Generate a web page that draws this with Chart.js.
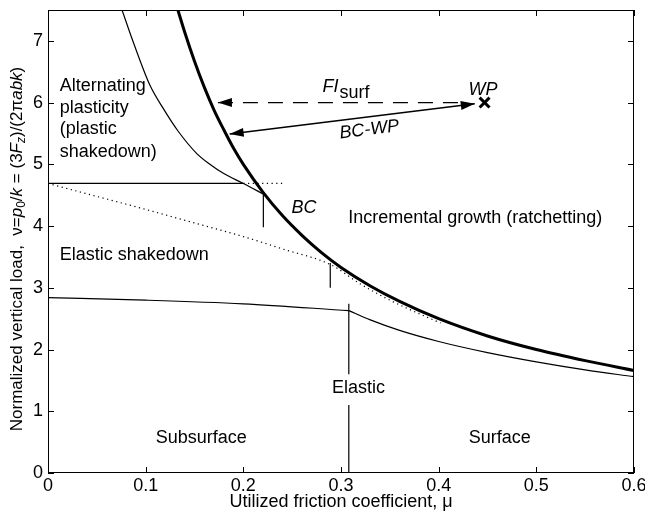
<!DOCTYPE html>
<html>
<head>
<meta charset="utf-8">
<script src="https://cdn.jsdelivr.net/npm/chart.js@4.4.0/dist/chart.umd.min.js"></script>
<style>
  html, body { margin: 0; padding: 0; background: #fff; }
  #wrap { width: 645px; height: 517px; }
</style>
</head>
<body>
<div id="wrap"><canvas id="shakedownChart"></canvas></div>
<script>
// axis ticks
const xTicks = [0, 0.1, 0.2, 0.3, 0.4, 0.5, 0.6];
const yTicks = [0, 1, 2, 3, 4, 5, 6, 7];

// ratchetting limit (BC), thick line
const bcMu = [0.133, 0.14, 0.15, 0.16, 0.17, 0.18, 0.19, 0.2, 0.22, 0.24, 0.26, 0.28, 0.3, 0.33, 0.36, 0.4, 0.45, 0.5, 0.55, 0.6];
const bcNu = [7.5, 7.14, 6.67, 6.25, 5.88, 5.56, 5.26, 5.0, 4.55, 4.17, 3.85, 3.57, 3.33, 3.03, 2.78, 2.5, 2.22, 2.0, 1.82, 1.66];

// alternating plasticity limit
const apMu = [0.0758, 0.088, 0.1044, 0.1178, 0.1331, 0.1526, 0.165, 0.18, 0.2, 0.2215];
const apNu = [7.5, 6.95, 6.28, 5.91, 5.54, 5.17, 5.01, 4.85, 4.69, 4.51];

// elastic limit: subsurface part, then surface part
const elSubMu = [0, 0.1, 0.2, 0.308];
const elSubNu = [2.84, 2.8, 2.74, 2.63];
const elSurfMu = [0.308, 0.33, 0.36, 0.4, 0.45, 0.5, 0.55, 0.6];
const elSurfNu = [2.63, 2.48, 2.31, 2.13, 1.95, 1.8, 1.67, 1.56];

// elastic shakedown limit (dotted)
const esMu = [0, 0.05, 0.1, 0.15, 0.2, 0.24, 0.29, 0.32, 0.35, 0.38, 0.402];
const esNu = [4.69, 4.48, 4.27, 4.05, 3.83, 3.63, 3.37, 3.06, 2.8, 2.58, 2.43];

// horizontal plastic shakedown level, solid then dotted
const psMu = [0, 0.2];
const psNu = [4.69, 4.69];
const psDotMu = [0.2, 0.24];
const psDotNu = [4.69, 4.69];

// short vertical dividers
const div1Mu = [0.2205, 0.2205];
const div1Nu = [4.52, 3.98];
const div2Mu = [0.289, 0.289];
const div2Nu = [3.4, 3.0];
const div3aMu = [0.308, 0.308];
const div3aNu = [2.74, 1.6];
const div3bMu = [0.308, 0.308];
const div3bNu = [1.1, 0];

// working point and arrows
const wpMu = [0.447];
const wpNu = [6.0];
const fiMu = [0.174, 0.43];
const fiNu = [6.0, 6.0];
const bcwpMu = [0.186, 0.437];
const bcwpNu = [5.49, 5.98];

const FONT = '"Liberation Sans", Arial, Helvetica, sans-serif';
const FS = 18;

function toPoints(xs, ys) {
    return xs.map((x, i) => ({ x: x, y: ys[i] }));
}

function lineSet(xs, ys, width, dash, smooth) {
    return {
        data: toPoints(xs, ys),
        showLine: true,
        borderColor: '#000',
        borderWidth: width,
        borderDash: dash || [],
        pointRadius: 0,
        cubicInterpolationMode: smooth ? 'monotone' : 'default',
        tension: 0,
        fill: false
    };
}

const regionLabels = [
    { text: 'Alternating', x: 0.012, y: 6.27, align: 'left' },
    { text: 'plasticity', x: 0.012, y: 5.92, align: 'left' },
    { text: '(plastic', x: 0.012, y: 5.57, align: 'left' },
    { text: 'shakedown)', x: 0.012, y: 5.2, align: 'left' },
    { text: 'BC', x: 0.262, y: 4.3, align: 'center', italic: true },
    { text: 'Incremental growth (ratchetting)', x: 0.4375, y: 4.13, align: 'center' },
    { text: 'Elastic shakedown', x: 0.012, y: 3.53, align: 'left' },
    { text: 'Elastic', x: 0.318, y: 1.37, align: 'center' },
    { text: 'Subsurface', x: 0.157, y: 0.56, align: 'center' },
    { text: 'Surface', x: 0.4625, y: 0.56, align: 'center' },
    { text: 'WP', x: 0.4455, y: 6.2, align: 'center', italic: true }
];

function arrowHead(ctx, x1, y1, x2, y2) {
    const ang = Math.atan2(y2 - y1, x2 - x1);
    const len = 14, half = 4.5;
    ctx.beginPath();
    ctx.moveTo(x2, y2);
    ctx.lineTo(x2 - len * Math.cos(ang) + half * Math.sin(ang), y2 - len * Math.sin(ang) - half * Math.cos(ang));
    ctx.lineTo(x2 - len * Math.cos(ang) - half * Math.sin(ang), y2 - len * Math.sin(ang) + half * Math.cos(ang));
    ctx.closePath();
    ctx.fill();
}

const decorations = {
    id: 'decorations',
    afterDraw(chart) {
        const { ctx, chartArea: a, scales: { x, y } } = chart;
        ctx.save();
        ctx.strokeStyle = '#000';
        ctx.fillStyle = '#000';
        ctx.lineWidth = 1;

        // frame with inward ticks on all four sides
        ctx.strokeRect(a.left + 0.5, a.top + 0.5, a.width - 1, a.height - 1);
        ctx.beginPath();
        xTicks.forEach(v => {
            const px = Math.round(x.getPixelForValue(v)) + 0.5;
            ctx.moveTo(px, a.bottom); ctx.lineTo(px, a.bottom - 6);
            ctx.moveTo(px, a.top); ctx.lineTo(px, a.top + 6);
        });
        yTicks.forEach(v => {
            const py = Math.round(y.getPixelForValue(v)) + 0.5;
            ctx.moveTo(a.left, py); ctx.lineTo(a.left + 6, py);
            ctx.moveTo(a.right, py); ctx.lineTo(a.right - 6, py);
        });
        ctx.stroke();

        // arrow heads
        const px = (m) => x.getPixelForValue(m);
        const py = (n) => y.getPixelForValue(n);
        arrowHead(ctx, px(fiMu[1]), py(fiNu[1]), px(fiMu[0]), py(fiNu[0]));
        arrowHead(ctx, px(bcwpMu[1]), py(bcwpNu[1]), px(bcwpMu[0]), py(bcwpNu[0]));
        arrowHead(ctx, px(bcwpMu[0]), py(bcwpNu[0]), px(bcwpMu[1]), py(bcwpNu[1]));

        // region labels
        ctx.textBaseline = 'middle';
        regionLabels.forEach(l => {
            ctx.font = (l.italic ? 'italic ' : '') + FS + 'px ' + FONT;
            ctx.textAlign = l.align;
            ctx.fillText(l.text, px(l.x), py(l.y));
        });

        // FI_surf
        ctx.textAlign = 'left';
        ctx.font = 'italic ' + FS + 'px ' + FONT;
        const fiX = px(0.281), fiY = py(6.26);
        ctx.fillText('FI', fiX, fiY);
        const fiW = ctx.measureText('FI').width;
        ctx.font = FS + 'px ' + FONT;
        ctx.fillText('surf', fiX + fiW + 1, fiY + 6);

        // BC-WP, tilted along the arrow
        const ang = Math.atan2(py(bcwpNu[1]) - py(bcwpNu[0]), px(bcwpMu[1]) - px(bcwpMu[0]));
        ctx.save();
        ctx.translate(px(0.329), py(5.56));
        ctx.rotate(ang);
        ctx.textAlign = 'center';
        ctx.font = 'italic ' + FS + 'px ' + FONT;
        ctx.fillText('BC-WP', 0, 0);
        ctx.restore();

        // y axis title with italics and subscripts
        const TS = 17;
        const parts = [
            ['Normalized vertical load,  \u03bd=', ''], ['p', 'i'], ['0', 's'], ['/', ''], ['k', 'i'],
            [' = (3', ''], ['F', 'i'], ['z', 'is'], [')/(2\u03c0', ''], ['abk', 'i'], [')', '']
        ];
        const fontFor = (st) => (st.includes('i') ? 'italic ' : '') + (st.includes('s') ? 12 : TS) + 'px ' + FONT;
        let total = 0;
        parts.forEach(p => { ctx.font = fontFor(p[1]); total += ctx.measureText(p[0]).width; });
        ctx.save();
        ctx.translate(17, 249);
        ctx.rotate(-Math.PI / 2);
        ctx.textAlign = 'left';
        let cx = -total / 2;
        parts.forEach(p => {
            ctx.font = fontFor(p[1]);
            ctx.fillText(p[0], cx, p[1].includes('s') ? 5 : 0);
            cx += ctx.measureText(p[0]).width;
        });
        ctx.restore();

        ctx.restore();
    }
};

const ctx = document.getElementById('shakedownChart').getContext('2d');
new Chart(ctx, {
    type: 'scatter',
    data: {
        datasets: [
            lineSet(bcMu, bcNu, 3, null, true),
            lineSet(apMu, apNu, 1.2, null, true),
            lineSet(elSubMu, elSubNu, 1.2, null, true),
            lineSet(elSurfMu, elSurfNu, 1.2, null, true),
            lineSet(esMu, esNu, 1.2, [1.2, 3.5], true),
            lineSet(psMu, psNu, 1.2),
            lineSet(psDotMu, psDotNu, 1.2, [1.2, 3.5]),
            lineSet(div1Mu, div1Nu, 1.2),
            lineSet(div2Mu, div2Nu, 1.2),
            lineSet(div3aMu, div3aNu, 1.2),
            lineSet(div3bMu, div3bNu, 1.2),
            lineSet(fiMu, fiNu, 1.2, [15, 10]),
            lineSet(bcwpMu, bcwpNu, 1.5),
            {
                data: toPoints(wpMu, wpNu),
                pointStyle: 'crossRot',
                pointRadius: 7,
                borderWidth: 3,
                borderColor: '#000',
                backgroundColor: '#000'
            }
        ]
    },
    options: {
        responsive: true,
        maintainAspectRatio: false,
        animation: false,
        layout: { padding: { top: 8, right: 11, left: 0, bottom: 0 } },
        plugins: {
            legend: { display: false },
            tooltip: { enabled: false }
        },
        scales: {
            x: {
                type: 'linear',
                min: 0,
                max: 0.6,
                afterBuildTicks: s => { s.ticks = xTicks.map(v => ({ value: v })); },
                afterFit: s => { s.height = 44; s.paddingLeft = 0; s.paddingRight = 0; },
                grid: { display: false, drawTicks: false },
                border: { display: false },
                ticks: { color: '#000', padding: 2, maxRotation: 0, font: { family: FONT, size: FS } },
                title: { display: true, text: 'Utilized friction coefficient, \u03bc', color: '#000', padding: { top: 0, bottom: 4 }, font: { family: FONT, size: FS } }
            },
            y: {
                type: 'linear',
                min: 0,
                max: 7.5,
                afterBuildTicks: s => { s.ticks = yTicks.map(v => ({ value: v })); },
                afterFit: s => { s.width = 48; s.paddingTop = 0; s.paddingBottom = 0; },
                grid: { display: false, drawTicks: false },
                border: { display: false },
                ticks: { color: '#000', padding: 5, font: { family: FONT, size: FS } }
            }
        }
    },
    plugins: [decorations]
});
</script>
</body>
</html>
